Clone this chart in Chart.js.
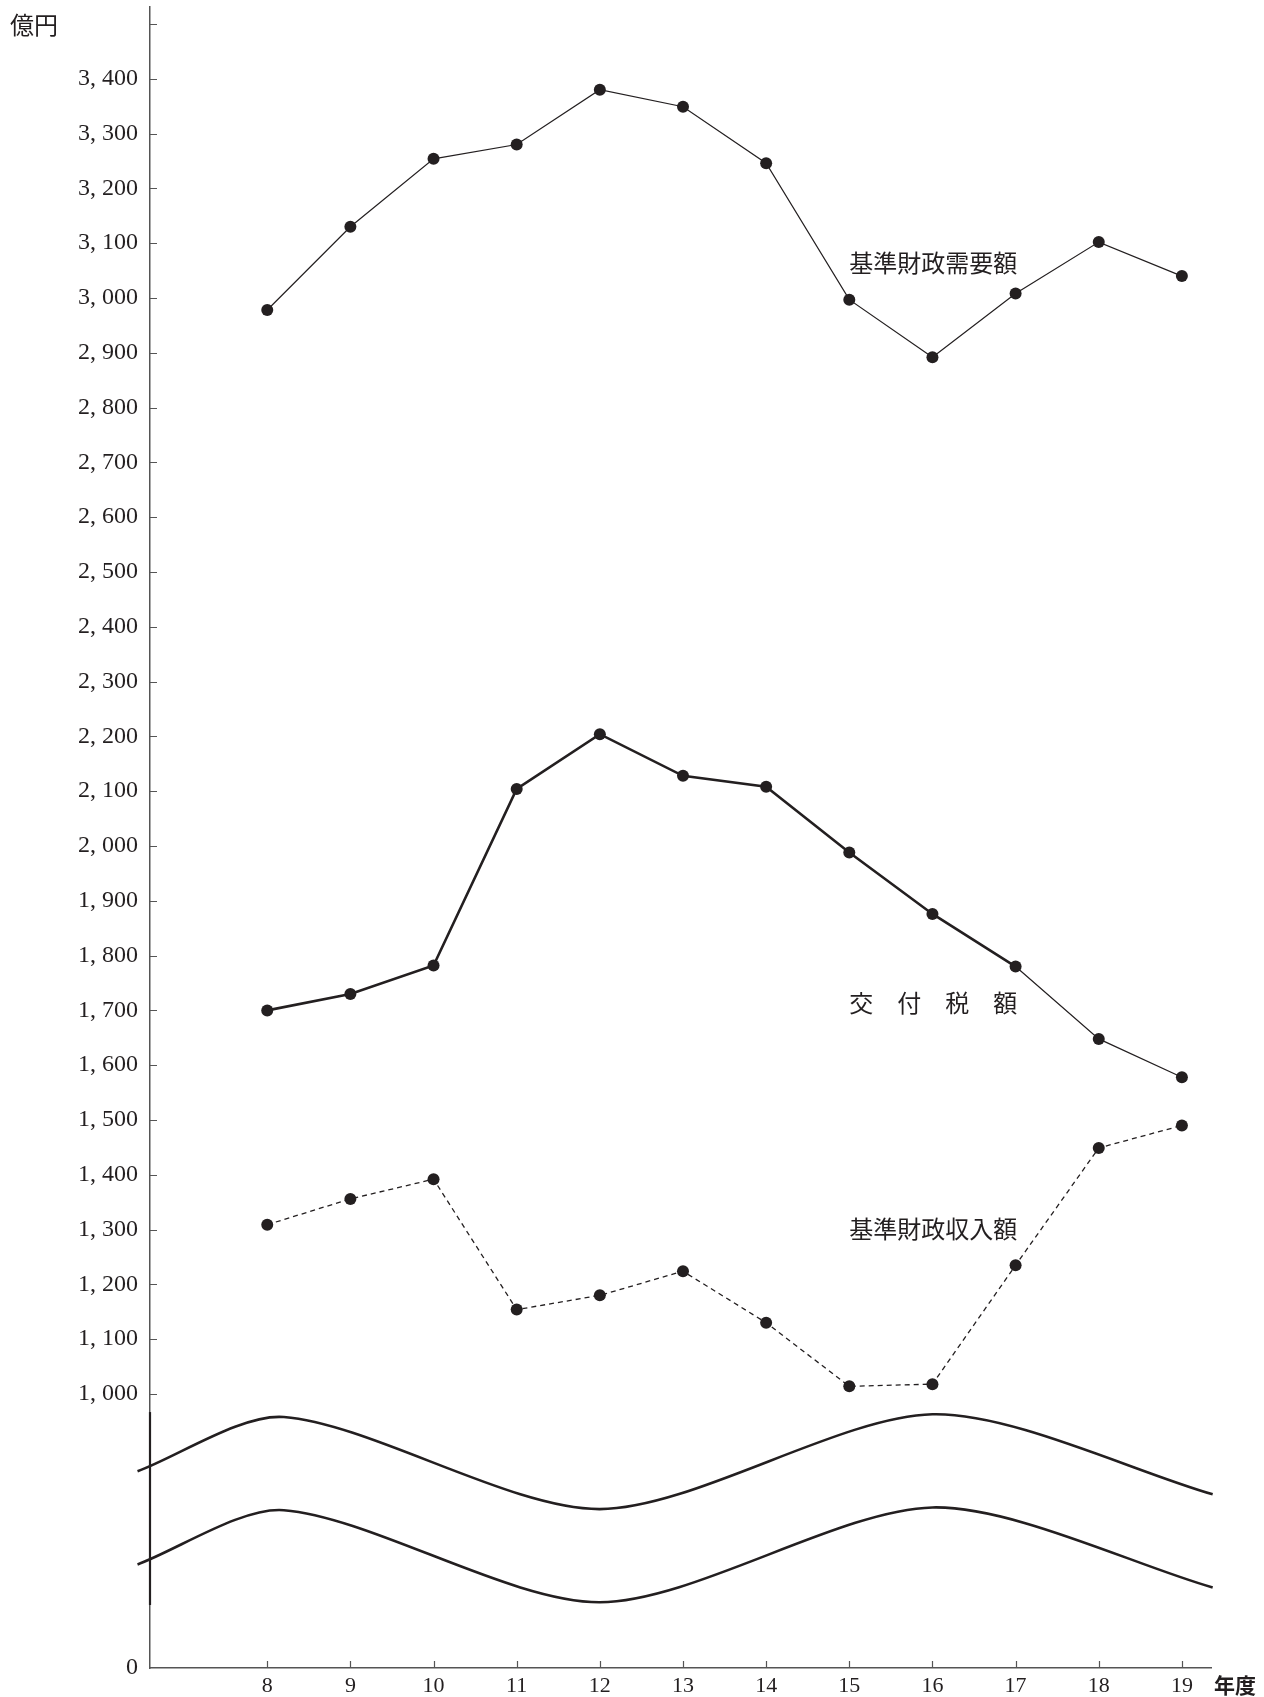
<!DOCTYPE html>
<html lang="ja">
<head>
<meta charset="utf-8">
<title>基準財政需要額・交付税額・基準財政収入額</title>
<script src="https://cdn.jsdelivr.net/npm/chart.js@4.4.1/dist/chart.umd.min.js"></script>
<style>
  html, body { margin: 0; padding: 0; background: #fff; }
  #wrap { width: 1264px; height: 1697px; }
</style>
</head>
<body>
<div id="wrap"><canvas id="chart" width="1264" height="1697"></canvas></div>
<script>
// 年度
const years = [8, 9, 10, 11, 12, 13, 14, 15, 16, 17, 18, 19];

// 億円
const demand  = [2978, 3130, 3254, 3280, 3380, 3349, 3246, 2997, 2892, 3008, 3102, 3040]; // 基準財政需要額
const grant   = [1700, 1730, 1782, 2104, 2204, 2128, 2108, 1988, 1876, 1780, 1648, 1578]; // 交付税額
const revenue = [1309, 1356, 1392, 1154, 1180, 1224, 1130, 1014, 1018, 1235, 1449, 1490]; // 基準財政収入額

// the axis is broken below 1,000: "0" sits where 500 would be
const yTickValues = [500, 1000, 1100, 1200, 1300, 1400, 1500, 1600, 1700, 1800, 1900,
  2000, 2100, 2200, 2300, 2400, 2500, 2600, 2700, 2800, 2900, 3000, 3100, 3200, 3300, 3400, 3500];
const yTickLabels = ['0', '1, 000', '1, 100', '1, 200', '1, 300', '1, 400', '1, 500', '1, 600',
  '1, 700', '1, 800', '1, 900', '2, 000', '2, 100', '2, 200', '2, 300', '2, 400', '2, 500',
  '2, 600', '2, 700', '2, 800', '2, 900', '3, 000', '3, 100', '3, 200', '3, 300', '3, 400', ''];

// wavy break marks across the cut part of the axis (ends, crests, troughs)
const waveX     = [6.44, 8.2, 12.0, 16.0, 19.37];
const waveUpper = [859, 958, 790, 963, 817];
const waveLower = [689, 788, 620, 793, 647];

const INK = '#231f20';
const AXIS = '#555';

const seriesNames = ['基準財政需要額', '交　付　税　額', '基準財政収入額'];

const pts = (xs, ys) => xs.map((v, i) => ({ x: v, y: ys[i] }));

const dot = {
  pointRadius: 6,
  pointHoverRadius: 6,
  pointBackgroundColor: INK,
  pointBorderWidth: 0,
  borderColor: INK,
  fill: false
};

const wave = {
  borderColor: INK,
  borderWidth: 2.6,
  pointRadius: 0,
  tension: 0.28,
  clip: false
};

// inward tick marks, names of the series, unit captions
const decorPlugin = {
  id: 'decor',
  afterDraw(chart) {
    const { ctx, chartArea: a, scales: { x, y } } = chart;
    ctx.save();
    ctx.strokeStyle = AXIS;
    ctx.lineWidth = 1.2;
    ctx.beginPath();
    yTickValues.forEach(v => {
      if (v === 500) return;
      const py = Math.round(y.getPixelForValue(v)) + 0.5;
      ctx.moveTo(a.left, py);
      ctx.lineTo(a.left + 7, py);
    });
    years.forEach(v => {
      const px = Math.round(x.getPixelForValue(v)) + 0.5;
      ctx.moveTo(px, a.bottom);
      ctx.lineTo(px, a.bottom - 7);
    });
    ctx.stroke();

    // axis looks heavier where the waves cross it
    ctx.strokeStyle = INK;
    ctx.lineWidth = 2.2;
    ctx.beginPath();
    ctx.moveTo(a.left, y.getPixelForValue(967));
    ctx.lineTo(a.left, y.getPixelForValue(615));
    ctx.stroke();

    ctx.fillStyle = INK;
    ctx.textAlign = 'left';
    ctx.textBaseline = 'middle';
    ctx.font = '24px "Noto Sans CJK JP"';
    const lx = x.getPixelForValue(15);
    ctx.fillText(seriesNames[0], lx, y.getPixelForValue(3064));
    ctx.fillText(seriesNames[1], lx, y.getPixelForValue(1714));
    ctx.fillText(seriesNames[2], lx, y.getPixelForValue(1301));

    ctx.fillText('億円', 10, a.top + 18);
    ctx.font = 'bold 21px "Noto Sans CJK JP"';
    ctx.fillText('年度', a.right + 3, a.bottom + 17);
    ctx.restore();
  }
};

new Chart(document.getElementById('chart'), {
  type: 'line',
  data: {
    datasets: [
      { label: '基準財政需要額', data: pts(years, demand), borderWidth: 1.2, ...dot },
      {
        label: '交付税額', data: pts(years, grant), borderWidth: 2.6, ...dot,
        segment: { borderWidth: c => (c.p0DataIndex >= 9 ? 1.2 : 2.6) }
      },
      { label: '基準財政収入額', data: pts(years, revenue), borderWidth: 1.3, borderDash: [5, 4], ...dot },
      { label: 'wave1', data: pts(waveX, waveUpper), ...wave },
      { label: 'wave2', data: pts(waveX, waveLower), ...wave }
    ]
  },
  options: {
    responsive: false,
    devicePixelRatio: 1,
    animation: false,
    events: [],
    layout: { padding: { left: 0, top: 7, right: 53, bottom: 0 } },
    plugins: {
      legend: { display: false },
      tooltip: { enabled: false }
    },
    scales: {
      x: {
        type: 'linear',
        min: 6.59,
        max: 19.35,
        afterBuildTicks: s => { s.ticks = years.map(v => ({ value: v })); },
        afterFit: s => { s.height = 29; s.paddingLeft = 0; s.paddingRight = 0; },
        grid: { drawOnChartArea: false, drawTicks: false },
        border: { display: true, color: AXIS, width: 1.5 },
        ticks: {
          autoSkip: false,
          maxRotation: 0,
          padding: 5,
          color: INK,
          font: { family: 'Liberation Serif', size: 22 },
          callback: v => String(v)
        }
      },
      y: {
        type: 'linear',
        min: 500,
        max: 3531,
        afterBuildTicks: s => { s.ticks = yTickValues.map(v => ({ value: v })); },
        afterFit: s => { s.width = 150; s.paddingTop = 0; s.paddingBottom = 0; },
        grid: { drawOnChartArea: false, drawTicks: false },
        border: { display: true, color: AXIS, width: 1.5 },
        ticks: {
          autoSkip: false,
          padding: 12,
          color: INK,
          font: { family: 'Liberation Serif', size: 24 },
          callback: (v, i) => yTickLabels[i]
        }
      }
    }
  },
  plugins: [decorPlugin]
});
</script>
</body>
</html>
